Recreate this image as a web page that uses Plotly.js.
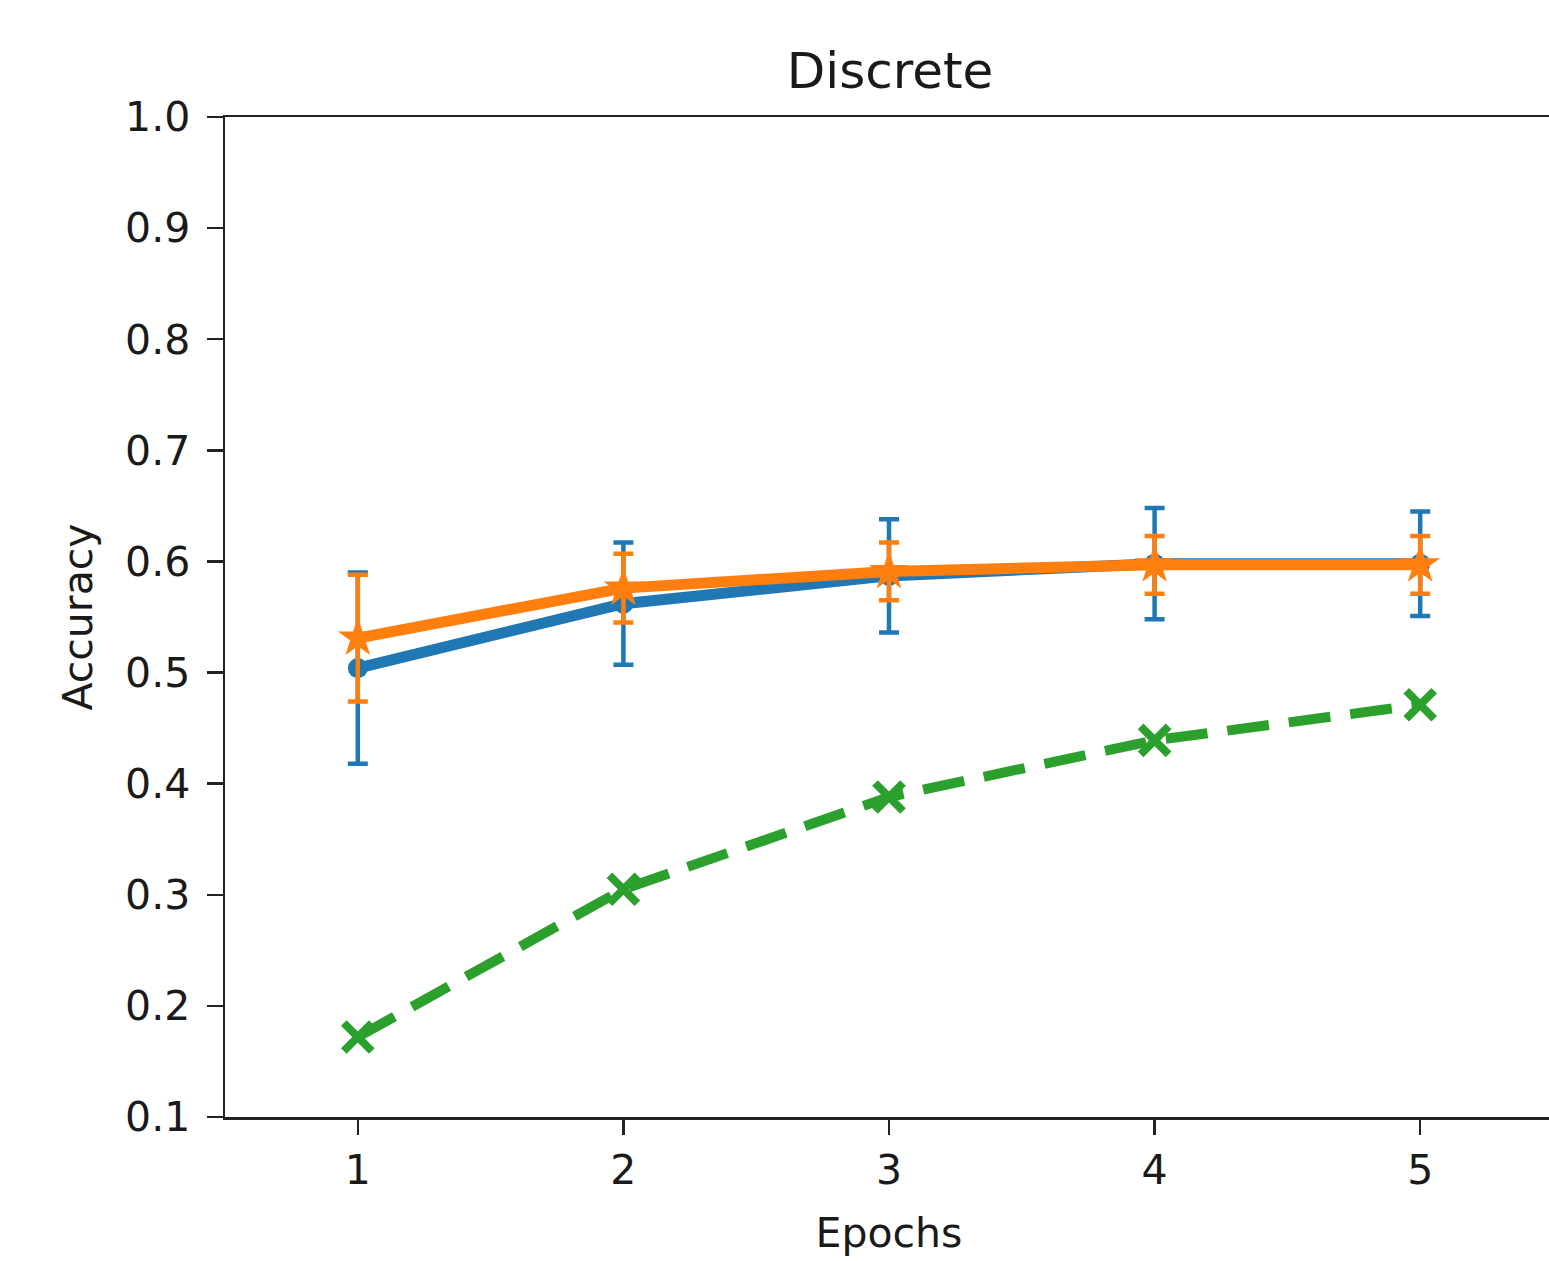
<!DOCTYPE html>
<html>
<head>
<meta charset="utf-8">
<script src="https://cdn.plot.ly/plotly-3.0.1.min.js"></script>
<style>html,body{margin:0;padding:0;overflow:hidden;background:#fff;}</style>
</head>
<body>
<div id="chart"></div>
<script>
const epochs = [1, 2, 3, 4, 5];
const blueMean = [0.504, 0.562, 0.587, 0.598, 0.598];
const blueErr = [0.086, 0.055, 0.051, 0.050, 0.047];
const orangeMean = [0.531, 0.576, 0.591, 0.597, 0.597];
const orangeErr = [0.057, 0.031, 0.026, 0.026, 0.026];
const greenMean = [0.172, 0.305, 0.388, 0.439, 0.471];
const yTicks = [0.1, 0.2, 0.3, 0.4, 0.5, 0.6, 0.7, 0.8, 0.9, 1.0];
const xTicks = [1, 2, 3, 4, 5];

const font = {family: 'DejaVu Sans, sans-serif', color: '#1a1a1a'};

const traces = [
  {
    x: epochs, y: blueMean, type: 'scatter', mode: 'lines+markers',
    line: {color: '#1f77b4', width: 11},
    marker: {symbol: 'circle', size: 20, color: '#1f77b4'},
    error_y: {type: 'data', array: blueErr, visible: true, color: '#1f77b4', thickness: 4.5, width: 10},
    showlegend: false
  },
  {
    x: epochs, y: orangeMean, type: 'scatter', mode: 'lines+markers',
    line: {color: '#ff7f0e', width: 11},
    marker: {symbol: 'star', size: 30, color: '#ff7f0e'},
    error_y: {type: 'data', array: orangeErr, visible: true, color: '#ff7f0e', thickness: 4.5, width: 10},
    showlegend: false
  },
  {
    x: epochs, y: greenMean, type: 'scatter', mode: 'lines+markers',
    line: {color: '#2ca02c', width: 10, dash: '42px,20px'},
    marker: {symbol: 'x-thin', size: 28, color: '#2ca02c', line: {color: '#2ca02c', width: 8}},
    showlegend: false
  }
];

const layout = {
  width: 1558, height: 1261,
  margin: {l: 225, r: 5, t: 117, b: 144},
  paper_bgcolor: '#fff', plot_bgcolor: '#fff',
  font: Object.assign({size: 41}, font),
  title: {text: 'Discrete', font: Object.assign({size: 50}, font),
          x: 0.5713, xanchor: 'center', xref: 'container', y: 1 - 70/1261, yanchor: 'middle', yref: 'container'},
  xaxis: {
    range: [0.5, 5.5], tickvals: xTicks, ticktext: xTicks.map(String),
    showgrid: false, zeroline: false,
    showline: true, linecolor: '#222', linewidth: 2.5, mirror: true,
    ticks: 'outside', ticklen: 15, tickwidth: 2.5, tickcolor: '#222',
    tickfont: Object.assign({size: 41}, font),
    title: {text: 'Epochs', font: Object.assign({size: 41}, font), standoff: 26}
  },
  yaxis: {
    range: [0.1, 1.0], tickvals: yTicks, ticktext: yTicks.map(v => v.toFixed(1)),
    showgrid: false, zeroline: false,
    showline: true, linecolor: '#222', linewidth: 2.5, mirror: true,
    ticks: 'outside', ticklen: 16, tickwidth: 2.5, tickcolor: '#222',
    ticklabelstandoff: 8,
    tickfont: Object.assign({size: 41}, font),
    title: {text: 'Accuracy', font: Object.assign({size: 41}, font), standoff: 20}
  }
};

Plotly.newPlot('chart', traces, layout, {displayModeBar: false, staticPlot: true});
</script>
</body>
</html>
